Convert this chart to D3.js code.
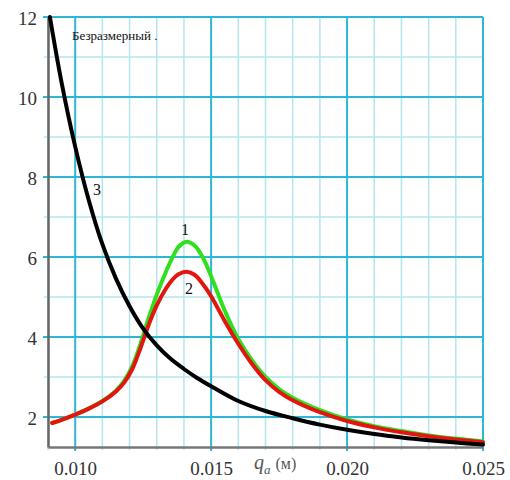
<!DOCTYPE html>
<html>
<head>
<meta charset="utf-8">
<script src="https://cdn.jsdelivr.net/npm/d3@7/dist/d3.min.js"></script>
<style>
  html, body { margin: 0; padding: 0; background: #fff; }
  svg { display: block; }
</style>
</head>
<body>
<svg id="chart" width="510" height="480"></svg>
<script>
// Resonance curves 1 and 2 share one set of abscissas (q_a, metres)
const qPeak = [0.00915, 0.0095, 0.0100, 0.0105, 0.0110, 0.0115, 0.0118, 0.0121, 0.0124,
  0.0127, 0.0130, 0.0133, 0.0136, 0.0138, 0.0141, 0.0144, 0.0147, 0.0150, 0.0155,
  0.0160, 0.0165, 0.0170, 0.0175, 0.0180, 0.0190, 0.0200, 0.0210, 0.0220, 0.0230,
  0.0240, 0.0250];
const curve1 = [1.85, 1.93, 2.06, 2.21, 2.40, 2.66, 2.90, 3.27, 3.83,
  4.47, 5.06, 5.57, 6.02, 6.25, 6.38, 6.28, 5.98, 5.52, 4.66,
  3.95, 3.42, 3.00, 2.70, 2.48, 2.17, 1.94, 1.77, 1.65, 1.54,
  1.46, 1.39];
const curve2 = [1.85, 1.93, 2.06, 2.21, 2.39, 2.64, 2.86, 3.20, 3.72,
  4.30, 4.79, 5.17, 5.45, 5.57, 5.63, 5.55, 5.32, 5.02, 4.40,
  3.83, 3.33, 2.92, 2.63, 2.42, 2.12, 1.90, 1.74, 1.62, 1.52,
  1.44, 1.37];

// Monotone curve 3
const qDecay = [0.00907, 0.0095, 0.0100, 0.0105, 0.0110, 0.0115, 0.0120, 0.0125, 0.0130,
  0.0135, 0.0140, 0.0145, 0.0150, 0.0160, 0.0170, 0.0180, 0.0190, 0.0200, 0.0210,
  0.0220, 0.0230, 0.0240, 0.0250];
const curve3 = [12.0, 10.36, 8.76, 7.42, 6.32, 5.46, 4.77, 4.21, 3.79,
  3.46, 3.20, 2.97, 2.77, 2.40, 2.15, 1.97, 1.81, 1.68, 1.575,
  1.49, 1.42, 1.36, 1.31];

const xTicks = [0.010, 0.015, 0.020, 0.025];
const xTickLabels = ["0.010", "0.015", "0.020", "0.025"];
const yTicks = [2, 4, 6, 8, 10, 12];
const yTickLabels = ["2", "4", "6", "8", "10", "12"];

const fontStack = '"Liberation Serif", "Liberation Sans", Arial, sans-serif';

const svg = d3.select("#chart").attr("font-family", fontStack);
const plotL = 48, plotR = 483, plotT = 17, plotB = 447;

const x = d3.scaleLinear().domain([0.009, 0.025]).range([plotL, plotR]);
const y = d3.scaleLinear().domain([1.25, 12]).range([plotB, plotT]);

const majorColor = "#2db7d2";
const minorColor = "#b4e5ef";

// grid: minor every 0.001 / 1 unit, major at labelled ticks
const grid = svg.append("g");
const xMinor = d3.range(9, 26).map(d => d / 1000);
const yMinor = d3.range(2, 13);

grid.selectAll("line.xminor").data(xMinor.filter(d => !xTicks.some(t => Math.abs(t - d) < 1e-9)))
  .join("line").attr("class", "xminor")
  .attr("x1", d => x(d)).attr("x2", d => x(d))
  .attr("y1", plotT).attr("y2", plotB + 3)
  .attr("stroke", minorColor).attr("stroke-width", 1.5);
grid.selectAll("line.yminor").data(yMinor.filter(d => !yTicks.includes(d)))
  .join("line").attr("class", "yminor")
  .attr("x1", plotL - 4).attr("x2", plotR)
  .attr("y1", d => y(d)).attr("y2", d => y(d))
  .attr("stroke", minorColor).attr("stroke-width", 1.5);
grid.selectAll("line.xmajor").data(xTicks)
  .join("line").attr("class", "xmajor")
  .attr("x1", d => x(d)).attr("x2", d => x(d))
  .attr("y1", plotT).attr("y2", plotB + 4)
  .attr("stroke", majorColor).attr("stroke-width", 2);
grid.selectAll("line.ymajor").data(yTicks)
  .join("line").attr("class", "ymajor")
  .attr("x1", plotL - 5).attr("x2", plotR)
  .attr("y1", d => y(d)).attr("y2", d => y(d))
  .attr("stroke", majorColor).attr("stroke-width", 2);

// axes
const yAxis = d3.axisLeft(y).tickValues(yTicks)
  .tickFormat((d, i) => yTickLabels[i]).tickSize(0).tickPadding(11);
const gy = svg.append("g").attr("transform", `translate(${plotL},0)`).call(yAxis)
  .attr("font-family", fontStack);
gy.select(".domain").attr("stroke", "#666").attr("stroke-width", 2.5);
gy.selectAll("text").attr("font-size", 19).attr("fill", "#333").attr("dy", "0.42em");

const xAxis = d3.axisBottom(x).tickValues(xTicks)
  .tickFormat((d, i) => xTickLabels[i]).tickSize(0);
const gx = svg.append("g").attr("transform", `translate(0,${plotB})`).call(xAxis)
  .attr("font-family", fontStack);
gx.select(".domain").attr("stroke", "#777").attr("stroke-width", 2.5);
gx.selectAll("text").attr("font-size", 19).attr("fill", "#333").attr("y", 28).attr("dy", 0);

// curves
const line = d3.line().x(d => x(d[0])).y(d => y(d[1])).curve(d3.curveCatmullRom.alpha(0.5));
const series = [
  { q: qPeak, v: curve1, color: "#2ee01e" },
  { q: qPeak, v: curve2, color: "#e3150f" },
  { q: qDecay, v: curve3, color: "#000000" }
];
svg.append("g").selectAll("path").data(series).join("path")
  .attr("d", s => line(s.q.map((q, i) => [q, s.v[i]])))
  .attr("fill", "none").attr("stroke", s => s.color)
  .attr("stroke-width", 4).attr("stroke-linecap", "round").attr("stroke-linejoin", "round");

// curve numbers
const curveLabels = svg.append("g").attr("font-size", 16).attr("fill", "#111").attr("text-anchor", "middle");
curveLabels.append("text").attr("x", 185).attr("y", 235).text("1");
curveLabels.append("text").attr("x", 189).attr("y", 294).text("2");
curveLabels.append("text").attr("x", 97).attr("y", 195).text("3");

// unit note
svg.append("text").attr("x", 72).attr("y", 40).attr("font-size", 13).attr("fill", "#111")
  .text("Безразмерный .");

// axis title q_a (м)
const title = svg.append("text").attr("x", 254).attr("y", 469).attr("fill", "#555");
title.append("tspan").attr("font-size", 20).attr("font-style", "italic").text("q");
title.append("tspan").attr("font-size", 13).attr("font-style", "italic").attr("dy", 5).text("a");
title.append("tspan").attr("font-size", 16).attr("dy", -5).attr("dx", 5).text("(м)");
</script>
</body>
</html>
